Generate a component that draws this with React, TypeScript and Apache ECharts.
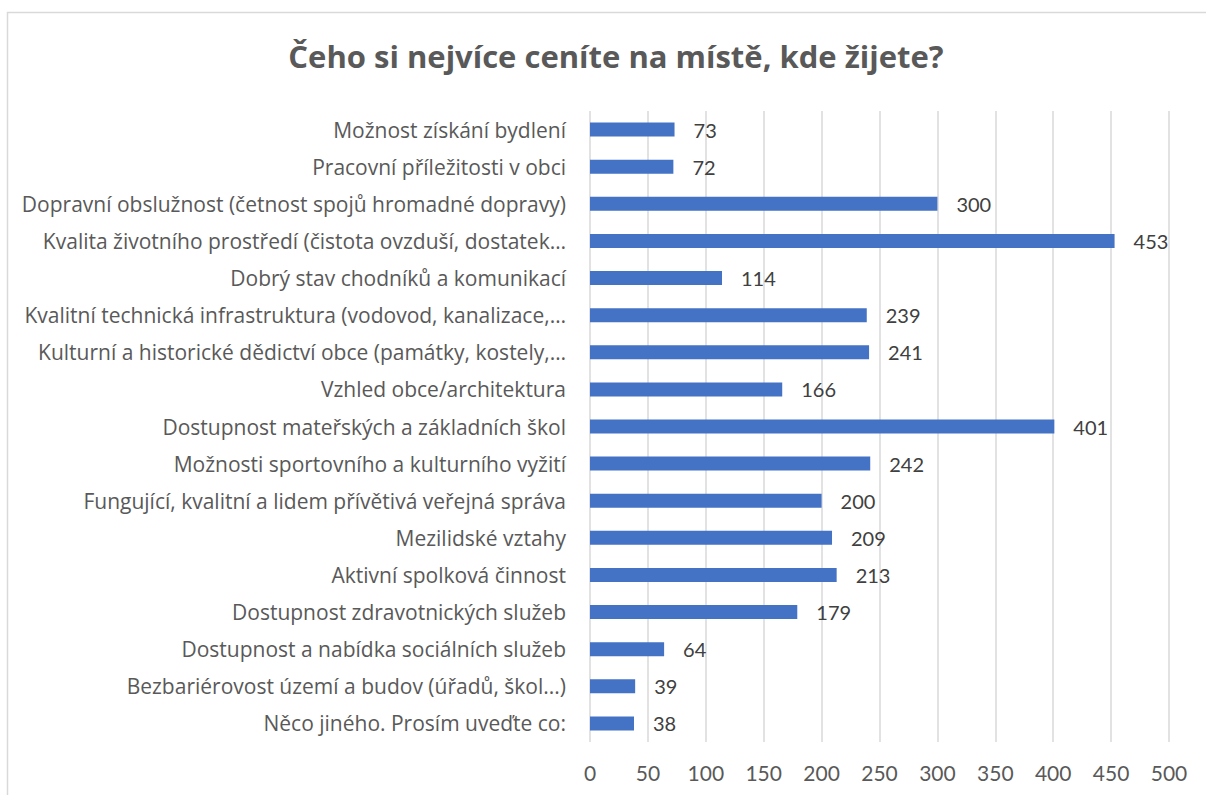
import React, { useEffect, useRef } from "react";
import * as echarts from "echarts";

const categories: string[] = [
  "Možnost získání bydlení",
  "Pracovní příležitosti v obci",
  "Dopravní obslužnost (četnost spojů hromadné dopravy)",
  "Kvalita životního prostředí (čistota ovzduší, dostatek…",
  "Dobrý stav chodníků a komunikací",
  "Kvalitní technická infrastruktura (vodovod, kanalizace,…",
  "Kulturní a historické dědictví obce (památky, kostely,…",
  "Vzhled obce/architektura",
  "Dostupnost mateřských a základních škol",
  "Možnosti sportovního a kulturního vyžití",
  "Fungující, kvalitní a lidem přívětivá veřejná správa",
  "Mezilidské vztahy",
  "Aktivní spolková činnost",
  "Dostupnost zdravotnických služeb",
  "Dostupnost a nabídka sociálních služeb",
  "Bezbariérovost území a budov (úřadů, škol...)",
  "Něco jiného. Prosím uveďte co:",
];

const values: number[] = [73, 72, 300, 453, 114, 239, 241, 166, 401, 242, 200, 209, 213, 179, 64, 39, 38];

const titleText = "Čeho si nejvíce ceníte na místě, kde žijete?";

export default function App() {
  const ref = useRef<HTMLDivElement>(null);
  useEffect(() => {
    if (!ref.current) return;
    const chart = echarts.init(ref.current, null, { renderer: "svg" });
    const font = "Lato, 'Open Sans', sans-serif";
    const catFont = "'Open Sans', sans-serif";
    chart.setOption({
      animation: false,
      backgroundColor: "#ffffff",
      title: {
        text: titleText,
        left: 611,
        textAlign: "center",
        top: 35,
        textStyle: { fontFamily: catFont, fontSize: 31, fontWeight: "bold", color: "#595959" },
      },
      graphic: [
        {
          type: "rect",
          shape: { x: 7.5, y: 12.5, width: 1230, height: 820 },
          style: { fill: "none", stroke: "#d9d9d9", lineWidth: 1.5 },
          silent: true,
        },
      ],
      grid: { left: 590, right: 37, top: 111, bottom: 53, containLabel: false },
      xAxis: {
        type: "value",
        min: 0,
        max: 500,
        interval: 50,
        axisLine: { show: false },
        axisTick: { show: false },
        splitLine: { show: true, lineStyle: { color: "#d9d9d9", width: 1.5 } },
        axisLabel: { fontFamily: font, fontSize: 21, color: "#595959", margin: 20 },
      },
      yAxis: {
        type: "category",
        data: categories,
        inverse: true,
        axisLine: { show: false },
        axisTick: { show: false },
        splitLine: { show: false },
        axisLabel: { fontFamily: catFont, fontSize: 21, color: "#595959", margin: 24 },
      },
      series: [
        {
          type: "bar",
          data: values,
          barWidth: 14,
          itemStyle: { color: "#4472C4" },
          label: {
            show: true,
            position: "right",
            distance: 19,
            fontFamily: font,
            fontSize: 20,
            color: "#404040",
          },
        },
      ],
    });
    return () => chart.dispose();
  }, []);
  return (
    <div
      ref={ref}
      style={{ position: "absolute", left: 0, top: 0, width: 1206, height: 795 }}
    />
  );
}
